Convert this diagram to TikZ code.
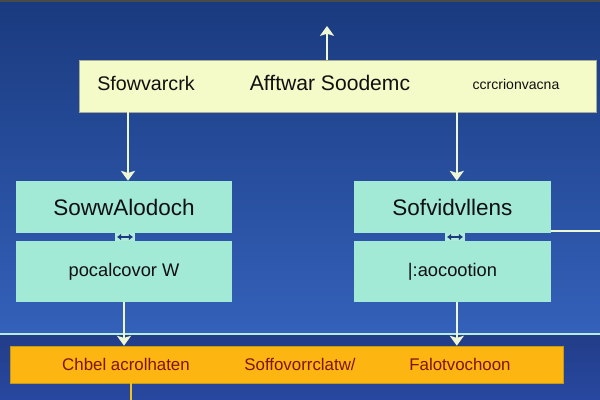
\documentclass[tikz,border=0pt]{standalone}
\usepackage{fontspec}
\setmainfont{Liberation Sans}
\usetikzlibrary{positioning, arrows.meta, calc}
\definecolor{archbgtop}{HTML}{1A3A7E}
\definecolor{archbgmid}{HTML}{3461BA}
\definecolor{archbglow}{HTML}{2848A0}
\definecolor{archrim}{HTML}{4A4A48}
\definecolor{archtop}{HTML}{F4FBC8}
\definecolor{archmod}{HTML}{A2E9D6}
\definecolor{archbus}{HTML}{FDB512}
\definecolor{archink}{HTML}{101010}
\definecolor{archred}{HTML}{7E1408}
\definecolor{archwire}{HTML}{EEF7D4}
\definecolor{archgold}{HTML}{F2C21A}

\tikzset{
  layerbox/.style={draw=archwire!70!black, line width=0.5pt, fill=archtop, inner sep=0pt},
  modbox/.style={fill=archmod, inner sep=0pt, minimum width=5.4cm, text=archink},
  busbox/.style={draw=archgold!80!black, line width=0.5pt, fill=archbus, inner sep=0pt,
    minimum width=13.825cm, minimum height=0.925cm},
  wire/.style={draw=archwire, line width=1.4pt, -{Stealth[width=10pt, length=7pt, inset=1.5pt]}},
  buslabel/.style={text=archred, font=\fontsize{12}{14}\selectfont},
}

\begin{document}
\begin{tikzpicture}
\useasboundingbox (0,0) rectangle (15,10);
% background
\shade[top color=archbgtop, bottom color=archbgmid] (0,1.65) rectangle (15,10);
\shade[top color=archbglow!85!black, bottom color=archbglow] (0,0) rectangle (15,1.65);
\fill[archrim] (0,9.95) rectangle (15,10);
\draw[archmod!80, line width=0.8pt] (0,1.65) -- (15,1.65);

% columns for the wires
\coordinate (colL) at (3.2,0);
\coordinate (colLb) at (3.1,0);
\coordinate (colR) at (11.42,0);
\coordinate (linkL) at (3.125,0);
\coordinate (linkR) at (11.375,0);

% top layer
\node[layerbox, minimum width=12.925cm, minimum height=1.3cm] (layer) at (8.4375,7.85) {};
\node[font=\fontsize{14}{16}\selectfont, text=archink] (layerA) at (3.65,7.92) {Sfowvarcrk};
\node[font=\fontsize{15}{17}\selectfont, text=archink] (layerB) at (8.25,7.92) {Afftwar Soodemc};
\node[font=\fontsize{10}{12}\selectfont, text=archink] (layerC) at (12.9,7.88) {ccrcrionvacna};
\coordinate (out) at (8.175,9.35);
\draw[wire] (layer.north -| out) -- (out);

% modules
\node[modbox, minimum height=1.3cm, font=\fontsize{16}{18}\selectfont] (lmodA) at (3.1,4.825) {SowwAlodoch};
\node[modbox, minimum height=1.525cm, font=\fontsize{13}{15}\selectfont] (lmodB) at (3.1,3.2125) {pocalcovor W};
\node[modbox, minimum width=4.925cm, minimum height=1.3cm, font=\fontsize{16}{18}\selectfont] (rmodA) at (11.3125,4.825) {Sofvidvllens};
\node[modbox, minimum width=4.925cm, minimum height=1.525cm, font=\fontsize{13}{15}\selectfont] (rmodB) at (11.3125,3.2125) {|:aocootion};

\draw[wire] (layer.south -| colL) -- (lmodA.north -| colL);
\draw[wire] (layer.south -| colR) -- (rmodA.north -| colR);

% links between module halves
\foreach \m/\c in {l/linkL, r/linkR} {
  \fill[archmod!85!white] ($(\m modA.south -| \c)+(-0.26,0)$) rectangle ($(\m modB.north -| \c)+(0.26,0)$);
  \draw[archbgtop, line width=1.2pt, {Latex[length=3pt,width=5pt]}-{Latex[length=3pt,width=5pt]}]
    ($(\m modA.south -| \c)!0.5!(\m modB.north -| \c)+(-0.2,0)$) -- ++(0.4,0);
}

\coordinate (side) at (15,4.225);
\draw[archwire, line width=1.5pt] (rmodA.east |- side) -- (side);

% bus
\node[busbox] (bus) at (7.1625,0.8875) {};
\node[buslabel] (busA) at (3.15,0.88) {Chbel acrolhaten};
\node[buslabel] (busB) at (7.5,0.88) {Soffovorrclatw/};
\node[buslabel] (busC) at (11.5,0.88) {Falotvochoon};

\draw[wire] (lmodB.south -| colLb) -- (bus.north -| colLb);
\draw[wire] (rmodB.south -| colR) -- (bus.north -| colR);

\coordinate (down) at (3.275,0);
\draw[archgold, line width=1.5pt] (bus.south -| down) -- (down);
\end{tikzpicture}
\end{document}
